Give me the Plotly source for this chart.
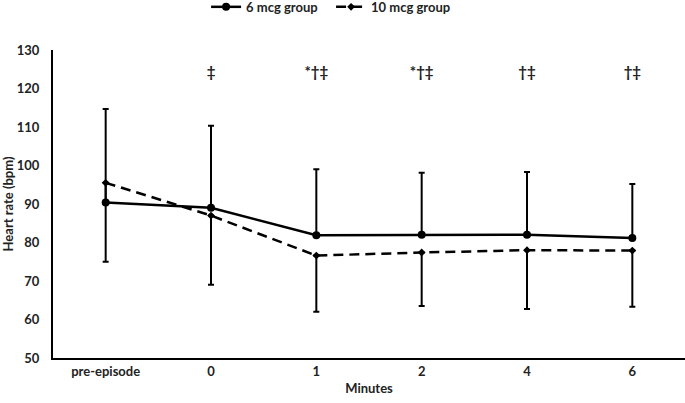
import plotly.graph_objects as go

categories = ["pre-episode", "0", "1", "2", "4", "6"]
mean_6 = [90.4, 89.0, 81.9, 82.0, 82.0, 81.2]
upper_6 = [114.7, 110.3, 99.0, 98.1, 98.3, 95.2]
mean_10 = [95.5, 87.0, 76.6, 77.4, 78.0, 77.9]
lower_10 = [75.0, 69.0, 62.0, 63.5, 62.7, 63.3]
sig_labels = ["", "‡", "*†‡", "*†‡", "†‡", "†‡"]
sig_y = [124, 124, 124, 124, 124, 124]

FONT = "Lato"
idx = list(range(len(categories)))

fig = go.Figure()
fig.add_trace(go.Scatter(
    x=idx, y=mean_6, name="6 mcg group", mode="lines+markers",
    line=dict(color="black", width=2.5),
    marker=dict(symbol="circle", size=8, color="black"),
    error_y=dict(type="data", symmetric=False,
                 array=[u - m for u, m in zip(upper_6, mean_6)],
                 arrayminus=[0] * len(mean_6),
                 color="black", thickness=2, width=3),
))
fig.add_trace(go.Scatter(
    x=idx, y=mean_10, name="10 mcg group", mode="lines+markers",
    line=dict(color="black", width=2.5, dash="10px,6px"),
    marker=dict(symbol="diamond", size=6, color="black"),
    error_y=dict(type="data", symmetric=False,
                 array=[0] * len(mean_10),
                 arrayminus=[m - l for m, l in zip(mean_10, lower_10)],
                 color="black", thickness=2, width=3),
))
fig.add_trace(go.Scatter(
    x=idx, y=sig_y, mode="text", text=sig_labels, showlegend=False,
    textfont=dict(family=FONT, size=15, color="#222", weight="bold"),
    hoverinfo="skip",
))

fig.update_layout(
    width=685, height=403,
    margin=dict(l=53, r=0, t=50, b=45, autoexpand=False),
    paper_bgcolor="white", plot_bgcolor="white",
    font=dict(family=FONT, size=13, color="#222", weight="bold"),
    showlegend=True,
    legend=dict(orientation="h", xref="paper", yref="paper",
                x=0.44, xanchor="center", y=1.14, yanchor="middle",
                font=dict(family=FONT, size=13, color="#222", weight="bold"),
                entrywidth=80, bgcolor="rgba(0,0,0,0)"),
    xaxis=dict(tickmode="array", tickvals=idx, ticktext=categories,
               range=[-0.5, len(categories) - 0.5], automargin=False,
               showline=True, linecolor="black", linewidth=2,
               showgrid=False, zeroline=False, ticks="",
               title=dict(text="Minutes", standoff=6,
                          font=dict(family=FONT, size=13, weight="bold")),
               tickfont=dict(family=FONT, size=13, weight="bold")),
    yaxis=dict(range=[50, 130], tickvals=[50, 60, 70, 80, 90, 100, 110, 120, 130],
               automargin=False,
               showline=True, linecolor="black", linewidth=2,
               showgrid=False, zeroline=False, ticks="", ticklabelstandoff=9,
               title=dict(text="Heart rate (bpm)", standoff=4,
                          font=dict(family=FONT, size=13, weight="bold")),
               tickfont=dict(family=FONT, size=13, weight="bold")),
)

fig.write_html("out.html", config={"displayModeBar": False},
               post_script="document.body.style.margin='0';document.body.style.padding='0';")
